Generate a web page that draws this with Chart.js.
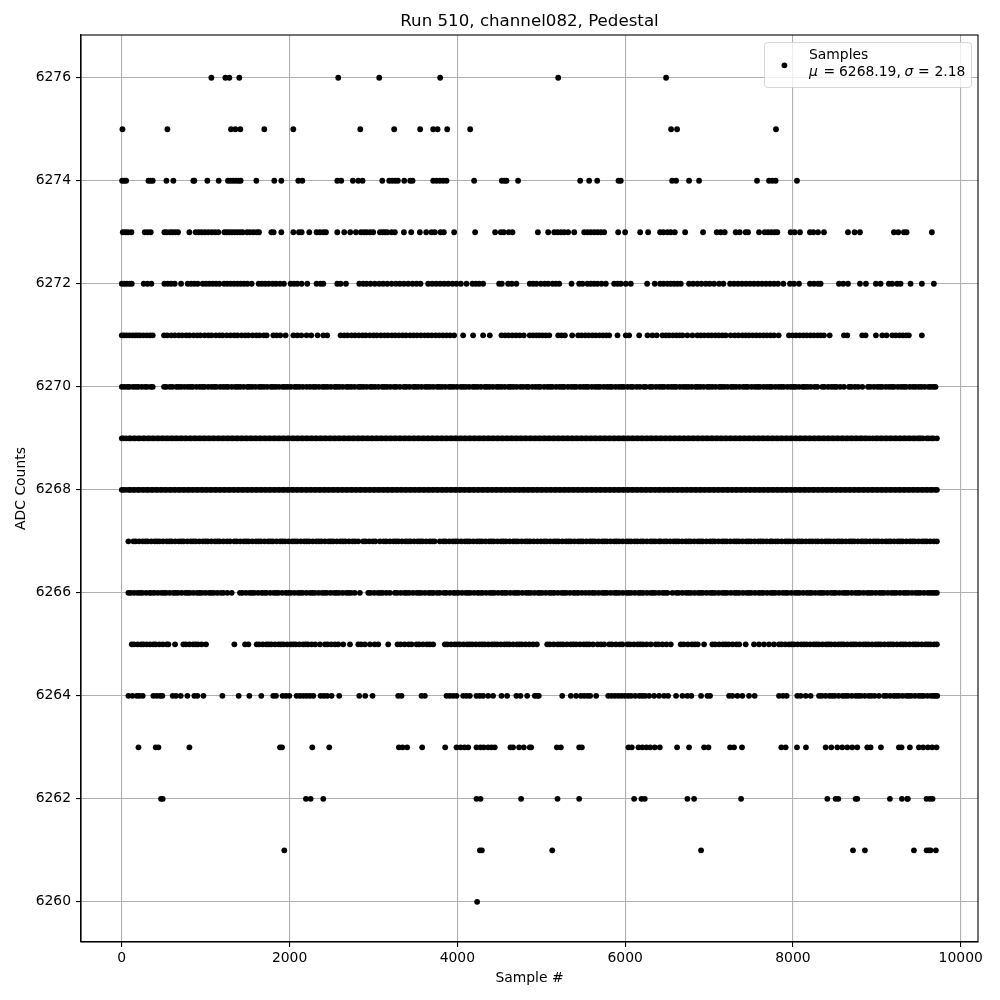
<!DOCTYPE html>
<html>
<head>
<meta charset="utf-8">
<title>Run 510, channel082, Pedestal</title>
<script src="https://cdn.jsdelivr.net/npm/chart.js@4/dist/chart.umd.min.js"></script>
<style>
  html, body { margin: 0; padding: 0; background: #fff; }
  canvas { display: block; }
</style>
</head>
<body>
<canvas id="pedestalChart" width="1000" height="1000"></canvas>
<script>
// sample numbers, one list per ADC level
var adc6276 = [1068,1235,1282,1401,2580,3069,3795,5202,6488];
var adc6275 = [8,544,1302,1354,1413,1699,2045,2843,3247,3557,3712,3764,3879,4153,6548,6619,7798];
var adc6274 = [4,28,52,318,345,369,532,615,853,865,1020,1155,1266,1298,1330,1362,1393,1417,1604,1818,1902,2104,2152,2569,2616,2755,2819,2870,3105,3188,3224,3259,3291,3367,3438,3466,3712,3752,3791,3831,3871,4200,4530,4562,4586,4724,5464,5571,5667,5921,5948,6560,6607,6762,6881,7572,7715,7755,7794,8048];
var adc6273 = [12,44,75,115,274,310,345,508,536,576,607,639,671,806,881,917,953,992,1032,1072,1112,1151,1223,1251,1282,1314,1346,1378,1409,1441,1493,1528,1568,1608,1636,1783,1810,1902,2045,2112,2144,2235,2322,2362,2402,2434,2569,2652,2723,2791,2850,2886,2918,2958,2997,3077,3109,3136,3164,3216,3255,3363,3450,3553,3629,3692,3732,3799,3839,3962,4212,4450,4518,4553,4613,4657,4960,5083,5155,5194,5234,5274,5321,5393,5512,5551,5591,5631,5670,5710,5750,5917,6000,6179,6274,6417,6457,6504,6544,6592,6715,6929,7092,7139,7187,7318,7366,7437,7465,7596,7663,7703,7743,7783,7814,7973,8021,8084,8203,8243,8299,8370,8656,8735,8799,9204,9256,9323,9355,9656];
var adc6272 = [0,28,60,91,119,262,306,353,508,548,588,631,707,786,826,865,905,965,1004,1044,1084,1124,1163,1219,1258,1298,1338,1378,1417,1457,1497,1548,1632,1671,1711,1751,1798,1838,1886,1933,2013,2053,2092,2144,2211,2322,2370,2402,2569,2608,2672,2831,2878,2918,2966,3017,3069,3116,3164,3216,3267,3315,3363,3414,3466,3513,3561,3652,3700,3748,3795,3843,3891,3942,3990,4042,4109,4180,4220,4260,4307,4498,4530,4605,4649,4704,4863,4903,4943,4996,5043,5083,5135,5174,5214,5361,5452,5492,5551,5591,5631,5670,5718,5770,5869,5909,5948,6008,6067,6262,6353,6417,6457,6504,6544,6584,6623,6663,6762,6810,6861,6909,6961,7008,7060,7120,7171,7251,7298,7346,7393,7441,7489,7536,7584,7632,7679,7727,7775,7822,7886,7965,8013,8072,8203,8251,8299,8330,8549,8600,8656,8799,8870,8989,9045,9144,9184,9243,9283,9402,9537,9680];
var adc6271 = [0,26,58,91,127,159,188,218,258,298,337,369,504,541,592,633,680,721,768,806,856,900,938,988,1032,1069,1120,1164,1201,1252,1296,1340,1377,1428,1472,1509,1560,1604,1641,1692,1727,1806,1846,1890,1953,2045,2092,2140,2203,2259,2334,2402,2449,2608,2651,2690,2738,2779,2825,2871,2909,2956,3001,3040,3088,3131,3172,3219,3260,3304,3349,3388,3436,3478,3519,3566,3610,3651,3695,3741,3782,3828,3870,3913,3962,4069,4188,4307,4387,4526,4569,4610,4655,4700,4744,4792,4863,4903,4943,4976,5015,5055,5095,5202,5242,5282,5369,5440,5480,5524,5566,5611,5649,5692,5734,5775,5810,5909,6008,6048,6167,6266,6325,6377,6445,6486,6524,6569,6612,6650,6683,6742,6802,6861,6902,6943,6989,7030,7074,7116,7158,7199,7258,7306,7349,7397,7437,7476,7521,7563,7605,7648,7690,7733,7775,7830,7953,7996,8038,8081,8124,8166,8209,8251,8294,8330,8370,8438,8608,8648,8826,8866,8989,9065,9116,9184,9226,9270,9311,9352,9382,9537];
var adc6270 = [0,31,66,92,135,168,197,238,276,302,345,369,504,529,574,605,651,678,709,749,788,820,846,889,928,960,987,1030,1069,1101,1128,1172,1209,1243,1269,1312,1353,1381,1412,1452,1496,1521,1554,1593,1637,1663,1695,1734,1778,1805,1837,1875,1919,1946,1979,2017,2061,2088,2120,2159,2203,2243,2283,2311,2350,2394,2421,2453,2493,2537,2563,2595,2634,2678,2705,2737,2776,2820,2847,2879,2918,2962,2989,3021,3060,3104,3131,3163,3202,3246,3273,3315,3363,3391,3430,3474,3501,3533,3572,3616,3643,3675,3714,3758,3785,3817,3856,3900,3927,3959,3998,4042,4069,4101,4140,4184,4211,4243,4282,4326,4353,4385,4424,4468,4495,4527,4566,4610,4637,4669,4708,4752,4784,4823,4849,4894,4932,4965,4991,5035,5074,5106,5133,5177,5216,5248,5275,5319,5358,5390,5417,5461,5500,5532,5559,5603,5642,5674,5701,5745,5784,5816,5843,5887,5926,5958,5985,6029,6067,6093,6138,6176,6222,6246,6296,6324,6368,6407,6439,6466,6510,6549,6581,6608,6652,6691,6723,6755,6794,6838,6865,6897,6936,6980,7007,7039,7078,7122,7149,7181,7220,7264,7291,7323,7362,7406,7437,7464,7508,7547,7579,7606,7650,7689,7721,7748,7792,7831,7863,7890,7934,7973,8005,8032,8072,8117,8143,8176,8214,8259,8291,8350,8377,8421,8460,8492,8519,8563,8608,8668,8695,8739,8778,8827,8894,8922,8965,9005,9037,9064,9108,9147,9179,9206,9250,9289,9321,9348,9392,9431,9462,9501,9533,9572,9616,9643,9675,9700];
var adc6269 = [0,19,52,88,106,143,161,197,217,254,272,308,329,364,385,419,441,475,497,530,552,586,608,641,663,697,718,752,773,808,829,863,884,919,940,974,995,1030,1051,1085,1106,1141,1162,1196,1217,1252,1273,1307,1328,1363,1384,1418,1439,1474,1495,1529,1550,1585,1606,1640,1661,1696,1717,1751,1772,1807,1828,1862,1883,1918,1939,1973,1994,2029,2050,2084,2105,2140,2161,2195,2216,2251,2272,2306,2327,2362,2383,2417,2438,2473,2494,2528,2549,2584,2605,2639,2660,2695,2716,2750,2771,2806,2827,2861,2882,2917,2938,2972,2993,3028,3049,3083,3104,3139,3160,3194,3215,3250,3271,3305,3326,3361,3382,3416,3437,3472,3493,3527,3548,3583,3604,3638,3659,3694,3715,3749,3770,3805,3826,3860,3881,3916,3937,3971,3992,4027,4048,4082,4103,4138,4159,4193,4214,4249,4270,4304,4325,4360,4381,4415,4436,4471,4492,4526,4547,4582,4603,4637,4658,4693,4714,4748,4769,4804,4825,4859,4880,4915,4936,4970,4991,5026,5047,5081,5102,5137,5158,5192,5213,5248,5269,5303,5324,5359,5380,5414,5435,5470,5491,5525,5546,5581,5602,5636,5657,5692,5713,5747,5768,5803,5824,5858,5879,5914,5935,5969,5990,6025,6046,6080,6101,6136,6157,6191,6212,6247,6268,6302,6323,6358,6379,6413,6434,6469,6490,6524,6545,6580,6601,6635,6656,6691,6712,6746,6767,6802,6823,6857,6878,6913,6934,6968,6989,7024,7045,7079,7100,7135,7156,7190,7211,7246,7267,7301,7322,7357,7378,7412,7433,7468,7489,7523,7544,7579,7600,7634,7655,7690,7711,7745,7766,7801,7822,7856,7877,7912,7933,7967,7988,8023,8044,8078,8099,8134,8155,8189,8210,8245,8266,8300,8321,8356,8377,8411,8432,8467,8488,8522,8543,8578,8599,8633,8654,8689,8710,8744,8765,8800,8821,8855,8880,8915,8953,8988,9009,9043,9064,9099,9120,9154,9175,9210,9231,9265,9286,9321,9342,9376,9397,9432,9453,9487,9508,9524,9550,9596,9617,9652,9673,9716];
var adc6268 = [0,17,49,84,101,135,156,190,209,243,264,298,318,352,372,406,426,460,480,514,534,568,588,622,642,676,696,730,750,784,804,838,858,892,912,946,966,1000,1020,1054,1074,1108,1128,1162,1182,1216,1236,1270,1290,1324,1344,1378,1398,1432,1452,1486,1506,1540,1560,1594,1614,1648,1668,1702,1722,1756,1776,1810,1830,1864,1884,1918,1938,1972,1992,2026,2046,2080,2100,2134,2154,2188,2208,2242,2262,2296,2316,2350,2370,2404,2424,2458,2478,2512,2532,2566,2586,2620,2640,2674,2694,2728,2748,2782,2802,2836,2856,2890,2910,2944,2964,2998,3018,3052,3072,3106,3126,3160,3180,3214,3234,3268,3288,3322,3342,3376,3396,3430,3450,3484,3504,3538,3558,3592,3612,3646,3666,3700,3720,3754,3774,3808,3828,3862,3882,3916,3936,3970,3990,4024,4044,4078,4098,4132,4152,4186,4206,4240,4260,4294,4314,4348,4368,4402,4422,4456,4476,4510,4530,4564,4584,4618,4638,4672,4692,4726,4746,4780,4800,4834,4854,4888,4908,4942,4962,4996,5016,5050,5070,5104,5124,5158,5178,5212,5232,5266,5286,5320,5340,5374,5394,5428,5448,5482,5502,5536,5556,5590,5610,5644,5664,5698,5718,5752,5772,5806,5826,5860,5880,5914,5934,5968,5988,6022,6042,6076,6096,6130,6150,6184,6204,6238,6258,6292,6312,6346,6366,6400,6420,6454,6474,6508,6528,6562,6582,6616,6636,6670,6690,6724,6744,6778,6798,6832,6852,6886,6906,6940,6960,6994,7014,7048,7068,7102,7122,7156,7176,7210,7230,7264,7284,7318,7338,7372,7392,7426,7446,7480,7500,7534,7554,7588,7608,7642,7662,7696,7716,7750,7770,7804,7824,7858,7878,7912,7932,7966,7986,8020,8040,8074,8094,8128,8148,8182,8202,8236,8256,8290,8310,8344,8364,8398,8418,8452,8472,8506,8526,8560,8580,8614,8634,8668,8688,8722,8742,8776,8796,8830,8850,8884,8904,8938,8958,8992,9012,9046,9066,9100,9120,9154,9174,9208,9228,9262,9282,9316,9336,9370,9390,9424,9444,9478,9498,9532,9552,9586,9606,9640,9660,9694,9716];
var adc6267 = [79,139,165,207,250,281,307,351,393,421,451,492,537,566,594,637,680,709,737,782,824,853,882,925,968,997,1025,1068,1111,1140,1168,1212,1255,1290,1342,1371,1413,1456,1485,1514,1557,1600,1629,1658,1701,1744,1773,1802,1845,1888,1917,1946,1989,2032,2061,2090,2133,2176,2205,2234,2277,2320,2349,2378,2421,2464,2493,2522,2565,2608,2637,2666,2709,2752,2781,2819,2878,2907,2950,2993,3022,3077,3124,3153,3196,3239,3268,3297,3340,3383,3412,3441,3484,3527,3556,3585,3628,3671,3700,3729,3791,3831,3860,3903,3946,3975,4004,4047,4090,4119,4148,4191,4234,4263,4292,4335,4378,4407,4436,4479,4522,4551,4580,4623,4666,4695,4724,4767,4810,4839,4868,4911,4954,4996,5035,5064,5107,5150,5179,5208,5251,5294,5323,5352,5395,5438,5467,5496,5539,5582,5611,5640,5683,5726,5755,5784,5827,5870,5899,5928,5971,6014,6043,6072,6115,6147,6187,6216,6259,6302,6331,6360,6403,6425,6464,6493,6536,6579,6608,6637,6680,6723,6752,6781,6824,6867,6896,6925,6968,7011,7040,7069,7112,7155,7184,7213,7256,7299,7328,7357,7400,7443,7472,7501,7544,7587,7616,7645,7688,7731,7755,7794,7823,7866,7909,7938,7967,8010,8053,8082,8111,8154,8197,8231,8271,8300,8343,8386,8415,8444,8487,8530,8559,8588,8631,8674,8703,8732,8775,8818,8847,8876,8919,8962,8991,9020,9063,9106,9135,9164,9207,9250,9279,9308,9351,9394,9423,9452,9495,9538,9567,9596,9639,9682,9716];
var adc6266 = [79,107,148,188,219,246,290,332,358,389,431,472,502,529,571,614,642,671,713,756,784,813,855,898,926,955,997,1040,1068,1097,1139,1182,1211,1258,1310,1409,1438,1481,1524,1553,1582,1625,1668,1697,1726,1769,1812,1841,1870,1913,1956,1985,2014,2057,2100,2129,2158,2201,2244,2273,2302,2345,2388,2417,2446,2489,2532,2561,2590,2633,2676,2705,2734,2777,2838,2938,2967,3010,3053,3082,3111,3154,3196,3255,3284,3327,3370,3399,3428,3471,3514,3543,3572,3615,3658,3687,3716,3759,3791,3839,3868,3911,3954,3983,4012,4055,4098,4127,4156,4199,4242,4271,4300,4343,4386,4415,4444,4487,4530,4559,4588,4631,4674,4703,4732,4775,4818,4847,4876,4919,4962,4982,5011,5054,5097,5126,5155,5198,5241,5270,5299,5342,5385,5414,5443,5486,5529,5571,5611,5640,5683,5726,5755,5784,5827,5870,5899,5928,5971,6014,6043,6072,6115,6158,6187,6216,6259,6302,6331,6360,6403,6446,6475,6504,6564,6611,6640,6683,6726,6755,6784,6827,6870,6899,6928,6971,7014,7043,7072,7115,7158,7187,7216,7259,7302,7331,7360,7403,7446,7475,7504,7547,7590,7619,7648,7691,7734,7763,7792,7835,7878,7907,7936,7979,8022,8051,8080,8123,8166,8195,8224,8267,8310,8339,8368,8411,8454,8483,8512,8555,8598,8627,8656,8699,8742,8771,8800,8843,8886,8915,8944,8987,9030,9059,9088,9131,9174,9203,9232,9275,9318,9347,9376,9419,9462,9491,9520,9563,9606,9635,9664,9690,9716];
var adc6265 = [119,146,189,231,258,297,337,377,404,448,489,536,556,635,734,764,806,850,880,909,952,1004,1342,1469,1509,1608,1637,1681,1724,1753,1783,1826,1870,1899,1928,1972,2015,2045,2074,2117,2161,2190,2219,2263,2306,2362,2422,2452,2497,2542,2581,2640,2720,2819,2853,2898,2958,3014,3057,3176,3287,3323,3372,3421,3454,3513,3544,3590,3638,3672,3712,3851,3881,3925,3969,3999,4029,4073,4117,4147,4177,4221,4265,4295,4325,4369,4413,4443,4473,4517,4561,4591,4621,4665,4709,4739,4769,4813,4857,4903,4948,5071,5103,5149,5195,5227,5259,5305,5351,5383,5415,5461,5507,5539,5571,5617,5671,5710,5750,5810,5843,5890,5937,5968,6028,6059,6104,6149,6180,6211,6256,6306,6365,6398,6445,6492,6544,6663,6698,6747,6796,6831,6866,6941,7040,7073,7120,7167,7200,7233,7280,7327,7360,7437,7536,7596,7655,7715,7774,7834,7864,7908,7952,7982,8012,8056,8100,8130,8160,8204,8248,8278,8308,8352,8396,8426,8456,8500,8544,8574,8604,8648,8692,8722,8752,8796,8840,8870,8900,8944,8988,9018,9048,9092,9136,9166,9196,9240,9284,9314,9344,9388,9432,9462,9492,9536,9580,9610,9640,9684,9716];
var adc6264 = [79,127,179,210,250,377,417,457,484,607,647,703,782,865,901,973,1199,1393,1521,1663,1806,1838,1917,1957,1997,2084,2124,2164,2203,2243,2283,2370,2410,2449,2501,2592,2831,2902,2989,3295,3335,3573,3613,3871,3910,3950,3990,4069,4109,4149,4228,4268,4307,4367,4426,4526,4593,4704,4752,4832,4923,4950,4971,5250,5353,5416,5472,5512,5551,5583,5655,5798,5837,5877,5917,5956,5996,6036,6071,6120,6169,6204,6239,6286,6345,6405,6464,6512,6607,6683,6742,6790,6905,6981,7012,7239,7278,7338,7397,7477,7544,7834,7882,7925,8052,8092,8152,8211,8311,8343,8389,8435,8467,8499,8545,8591,8623,8655,8701,8747,8779,8811,8857,8903,8935,8974,9025,9085,9115,9159,9203,9233,9263,9307,9351,9381,9411,9455,9499,9529,9559,9603,9647,9677,9700,9720];
var adc6263 = [199,405,437,806,1886,1910,2271,2473,3303,3347,3402,3581,3855,3990,4038,4085,4129,4228,4276,4315,4367,4407,4446,4633,4664,4736,4792,4863,4880,5186,5234,5452,5484,6040,6079,6159,6206,6254,6298,6353,6413,6619,6762,6941,6993,7251,7298,7393,7862,7913,8048,8155,8390,8457,8529,8588,8648,8707,8767,8886,8926,9049,9263,9295,9394,9501,9553,9609,9660,9712];
var adc6262 = [468,488,2195,2251,2402,4228,4276,4760,5194,5452,6107,6195,6234,6742,6822,7382,8410,8509,8541,8747,8767,9156,9299,9363,9370,9593,9633,9664];
var adc6261 = [1937,4268,4292,5131,6905,8716,8858,9442,9593,9621,9641,9704];
var adc6260 = [4236];

var adcLevels = [6276,6275,6274,6273,6272,6271,6270,6269,6268,6267,6266,6265,6264,6263,6262,6261,6260];
var sampleLists = [adc6276,adc6275,adc6274,adc6273,adc6272,adc6271,adc6270,adc6269,adc6268,adc6267,adc6266,adc6265,adc6264,adc6263,adc6262,adc6261,adc6260];
var xTickValues = [0,2000,4000,6000,8000,10000];
var yTickValues = [6260,6262,6264,6266,6268,6270,6272,6274,6276];
var legendName = 'Samples';
var meanValue = '6268.19';
var sigmaValue = '2.18';

var points = [];
sampleLists.forEach(function(list, i) {
    list.forEach(function(s) {
        points.push({ x: s, y: adcLevels[i] });
    });
});

var fontName = '"DejaVu Sans"';

// spines and the matplotlib style legend box
var framePlugin = {
    id: 'frame',
    afterDraw: function(chart) {
        var ctx = chart.ctx;
        var a = chart.chartArea;
        ctx.save();
        ctx.strokeStyle = '#000';
        ctx.lineWidth = 1.1;
        ctx.strokeRect(a.left, a.top, a.right - a.left, a.bottom - a.top);

        ctx.beginPath();
        ctx.roundRect(764.5, 42.5, 207, 45, 3);
        ctx.fillStyle = 'rgba(255,255,255,0.8)';
        ctx.fill();
        ctx.strokeStyle = 'rgba(204,204,204,0.8)';
        ctx.lineWidth = 1;
        ctx.stroke();

        ctx.beginPath();
        ctx.arc(784.4, 65.3, 2.9, 0, Math.PI * 2);
        ctx.fillStyle = '#000';
        ctx.fill();

        ctx.fillStyle = '#000';
        ctx.textBaseline = 'alphabetic';
        ctx.textAlign = 'left';
        ctx.font = '13.9px ' + fontName;
        ctx.fillText(legendName, 809, 59);
        ctx.fillText('=', 823.5, 76);
        ctx.fillText(meanValue + ',', 839, 76);
        ctx.fillText('=', 918, 76);
        ctx.fillText(sigmaValue, 934.5, 76);
        ctx.font = 'italic 13.9px ' + fontName;
        ctx.fillText('\u03bc', 809, 76);
        ctx.fillText('\u03c3', 904.5, 76);
        ctx.restore();
    }
};

var ctx = document.getElementById('pedestalChart').getContext('2d');
var pedestalChart = new Chart(ctx, {
    type: 'scatter',
    data: {
        datasets: [{
            label: legendName,
            data: points,
            backgroundColor: '#000',
            borderWidth: 0,
            pointRadius: 2.9,
            pointHoverRadius: 2.9
        }]
    },
    plugins: [framePlugin],
    options: {
        responsive: false,
        animation: false,
        devicePixelRatio: 1,
        layout: { padding: { left: 0, right: 22, top: 0, bottom: 0 } },
        plugins: {
            legend: { display: false },
            tooltip: { enabled: false },
            title: {
                display: true,
                fullSize: false,
                text: 'Run 510, channel082, Pedestal',
                color: '#000',
                font: { family: fontName, size: 16.67, weight: 'normal', lineHeight: 1.2 },
                padding: { top: 12, bottom: 3 }
            }
        },
        scales: {
            x: {
                type: 'linear',
                min: -486,
                max: 10206,
                afterFit: function(scale) { scale.height = 58; },
                afterBuildTicks: function(scale) {
                    scale.ticks = xTickValues.map(function(v) { return { value: v }; });
                },
                title: {
                    display: true,
                    text: 'Sample #',
                    color: '#000',
                    font: { family: fontName, size: 13.9 },
                    padding: { top: 13, bottom: 13 }
                },
                ticks: {
                    color: '#000',
                    font: { family: fontName, size: 13.9 },
                    padding: 3,
                    autoSkip: false,
                    maxRotation: 0,
                    callback: function(v) { return String(v); }
                },
                grid: { color: '#b0b0b0', lineWidth: 1.1, tickColor: '#000', tickLength: 5 },
                border: { color: '#000', width: 1.1 }
            },
            y: {
                type: 'linear',
                min: 6259.22,
                max: 6276.83,
                afterFit: function(scale) { scale.width = 81; },
                afterBuildTicks: function(scale) {
                    scale.ticks = yTickValues.map(function(v) { return { value: v }; });
                },
                title: {
                    display: true,
                    text: 'ADC Counts',
                    color: '#000',
                    font: { family: fontName, size: 13.9 },
                    padding: { top: 13, bottom: 13 }
                },
                ticks: {
                    color: '#000',
                    font: { family: fontName, size: 13.9 },
                    padding: 5,
                    autoSkip: false,
                    callback: function(v) { return String(v); }
                },
                grid: { color: '#b0b0b0', lineWidth: 1.1, tickColor: '#000', tickLength: 5 },
                border: { color: '#000', width: 1.1 }
            }
        }
    }
});
</script>
</body>
</html>
